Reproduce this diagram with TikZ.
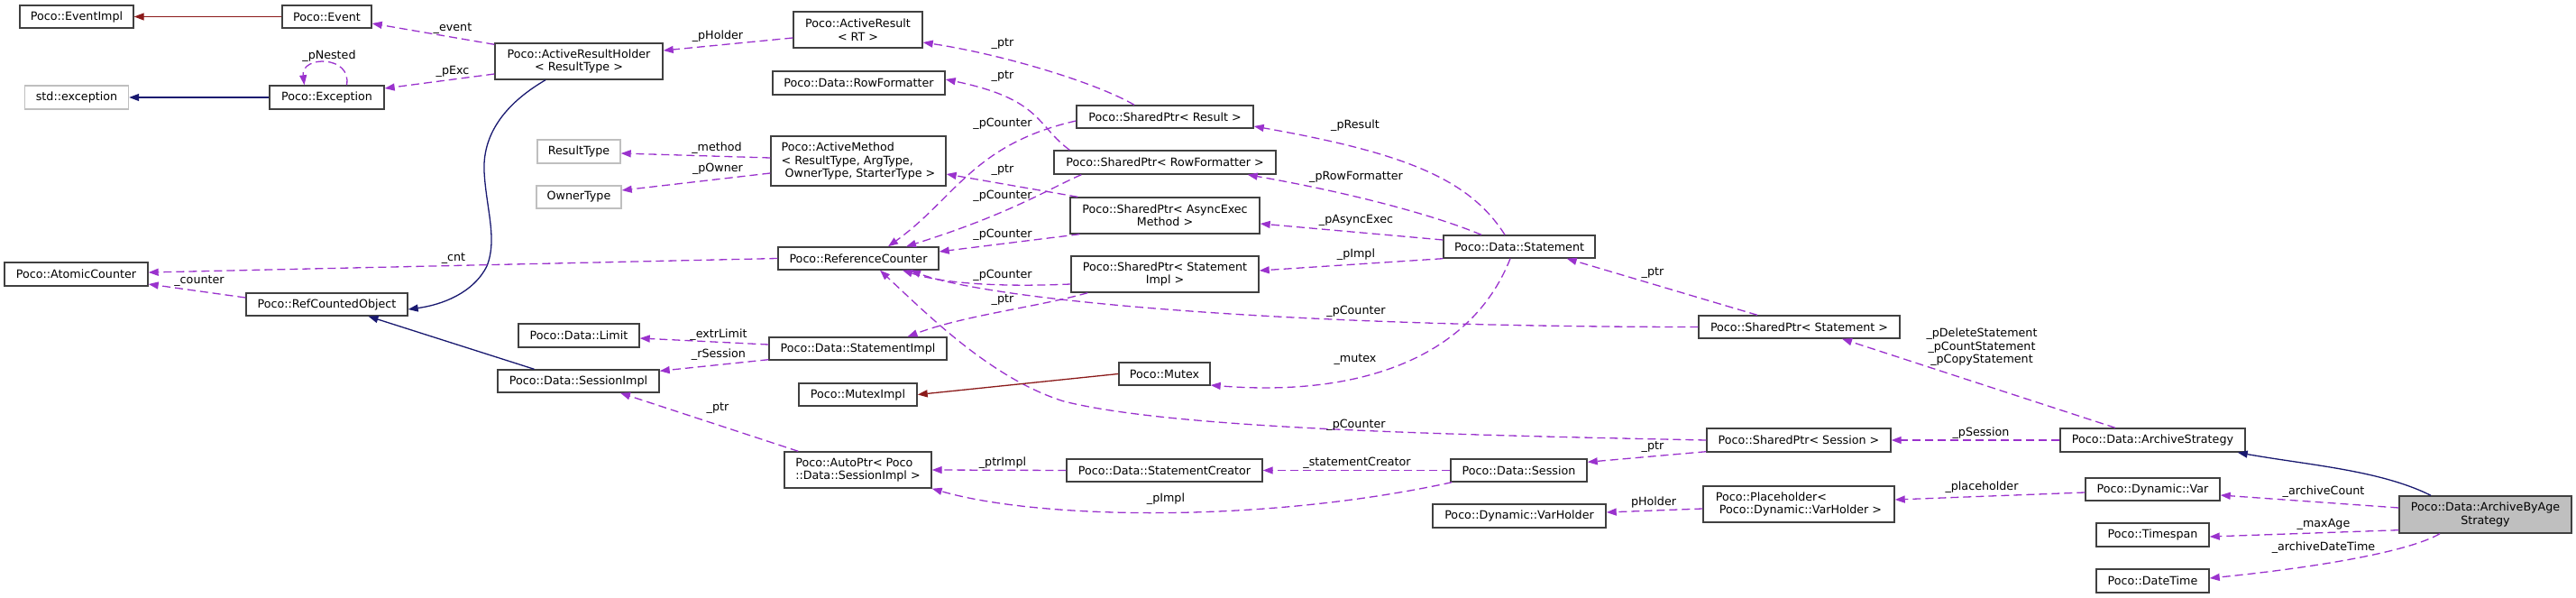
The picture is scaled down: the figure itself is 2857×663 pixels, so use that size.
\documentclass[tikz,border=0pt]{standalone}
\usepackage{fontspec}
\setmainfont{DejaVu Sans}
\usetikzlibrary{arrows.meta}
\definecolor{usecol}{HTML}{9A32CD}
\definecolor{inhcol}{HTML}{191970}
\definecolor{tplcol}{HTML}{8B1A1A}
\definecolor{boxcol}{HTML}{404040}
\definecolor{greycol}{HTML}{BFBFBF}
\tikzset{
  txt/.style={font=\fontsize{12.7}{14.5}\selectfont},
  box/.style={txt, draw=boxcol, line width=1.4pt, fill=white, inner sep=0pt, align=center},
  gbox/.style={box, draw=greycol},
  tbox/.style={box, fill=greycol},
  lbl/.style={txt, inner sep=0pt},
  use/.style={draw=usecol, line width=1.3pt, dash pattern=on 9pt off 5pt, -{Triangle[length=11pt,width=8pt]}},
  inh/.style={draw=inhcol, line width=1.3pt, -{Triangle[length=11pt,width=8pt]}},
  tpl/.style={draw=tplcol, line width=1.3pt, -{Triangle[length=11pt,width=8pt]}},
}
\begin{document}
\begin{tikzpicture}[x=1pt,y=-1pt]
\useasboundingbox (0,0) rectangle (2857,663);
% nodes
\node[box, minimum width=126pt, minimum height=25pt] (eventimpl) at (85,18.5) {Poco::EventImpl};
\node[box, minimum width=99pt, minimum height=25pt] (event) at (362.5,18.5) {Poco::Event};
\node[box, minimum width=186pt, minimum height=40pt] (arh) at (642,68) {Poco::ActiveResultHolder\\< ResultType >};
\node[gbox, minimum width=115pt, minimum height=26pt] (stdexc) at (85,108) {std::exception};
\node[box, minimum width=127pt, minimum height=26pt] (exception) at (362.5,108) {Poco::Exception};
\node[gbox, minimum width=92pt, minimum height=26pt] (resulttype) at (642,168) {ResultType};
\node[gbox, minimum width=94pt, minimum height=25pt] (ownertype) at (642,218.5) {OwnerType};
\node[box, minimum width=159pt, minimum height=26pt] (atomic) at (84.5,304) {Poco::AtomicCounter};
\node[box, minimum width=179pt, minimum height=25pt] (rco) at (362.5,337.5) {Poco::RefCountedObject};
\node[box, minimum width=134pt, minimum height=26pt] (limit) at (642,372) {Poco::Data::Limit};
\node[box, minimum width=179pt, minimum height=25pt] (sessionimpl) at (641.5,422.5) {Poco::Data::SessionImpl};
\node[box, minimum width=143pt, minimum height=40pt] (activeresult) at (951.5,33) {Poco::ActiveResult\\< RT >};
\node[box, minimum width=191pt, minimum height=26pt] (rowformatter) at (952.5,92) {Poco::Data::RowFormatter};
\node[box, align=left, minimum width=194pt, minimum height=55pt] (activemethod) at (952,178.5) {Poco::ActiveMethod\\< ResultType, ArgType,\\\hspace*{4pt}OwnerType, StarterType >};
\node[box, minimum width=178pt, minimum height=25pt] (refcounter) at (952,286.5) {Poco::ReferenceCounter};
\node[box, minimum width=197pt, minimum height=25pt] (stmtimpl) at (951.5,386.5) {Poco::Data::StatementImpl};
\node[box, minimum width=131pt, minimum height=25pt] (muteximpl) at (951.5,437.5) {Poco::MutexImpl};
\node[box, align=left, minimum width=163pt, minimum height=40pt] (autoptr) at (951.5,521) {Poco::AutoPtr< Poco\\::Data::SessionImpl >};
\node[box, minimum width=196pt, minimum height=25pt] (spresult) at (1292,129.5) {Poco::SharedPtr< Result >};
\node[box, minimum width=246pt, minimum height=26pt] (sprowf) at (1292,180) {Poco::SharedPtr< RowFormatter >};
\node[box, minimum width=210pt, minimum height=40pt] (spasync) at (1292,239) {Poco::SharedPtr< AsyncExec\\Method >};
\node[box, minimum width=208pt, minimum height=40pt] (spstmtimpl) at (1292,304) {Poco::SharedPtr< Statement\\Impl >};
\node[box, minimum width=101pt, minimum height=25pt] (mutex) at (1291.5,414.5) {Poco::Mutex};
\node[box, minimum width=217pt, minimum height=25pt] (stmtcreator) at (1291.5,521.5) {Poco::Data::StatementCreator};
\node[box, minimum width=168pt, minimum height=25pt] (statement) at (1685,273.5) {Poco::Data::Statement};
\node[box, minimum width=151pt, minimum height=25pt] (session) at (1684.5,521.5) {Poco::Data::Session};
\node[box, minimum width=192pt, minimum height=26pt] (varholder) at (1685,572) {Poco::Dynamic::VarHolder};
\node[box, minimum width=223pt, minimum height=25pt] (spstatement) at (1995.5,362.5) {Poco::SharedPtr< Statement >};
\node[box, minimum width=204pt, minimum height=26pt] (spsession) at (1995,488) {Poco::SharedPtr< Session >};
\node[box, align=left, minimum width=212pt, minimum height=40pt] (placeholder) at (1995,559) {Poco::Placeholder<\\\hspace*{4pt}Poco::Dynamic::VarHolder >};
\node[box, minimum width=205pt, minimum height=26pt] (archivestrategy) at (2387.5,488) {Poco::Data::ArchiveStrategy};
\node[box, minimum width=149pt, minimum height=25pt] (var) at (2387.5,542.5) {Poco::Dynamic::Var};
\node[box, minimum width=125pt, minimum height=26pt] (timespan) at (2387.5,593) {Poco::Timespan};
\node[box, minimum width=125pt, minimum height=26pt] (datetime) at (2387.5,644) {Poco::DateTime};
\node[tbox, minimum width=191pt, minimum height=41pt] (archivebyage) at (2756.5,570.5) {Poco::Data::ArchiveByAge\\Strategy};
% edges
\draw[tpl] (event.west) -- (eventimpl.east);
\draw[use] ([yshift=-2pt]arh.north west) -- ([yshift=-7.5pt]event.east);
\draw[use] ([yshift=-14pt]arh.west) -- ([yshift=10pt]exception.east);
\draw[use] ([xshift=22pt]exception.north) .. controls +(6,-33) and +(-4,-33) .. ([xshift=-25pt]exception.north);
\draw[inh] (exception.west) -- (stdexc.east);
\draw[inh] ([xshift=-37pt]arh.south) .. controls (565,112) and (535,145) .. (537,190) .. controls (539,230) and (552,265) .. (540,295) .. controls (525,325) and (490,338) .. ([yshift=-5.5pt]rco.east);
\draw[use] ([yshift=7.5pt]rco.west) -- ([yshift=-11pt]atomic.east);
\draw[use] (refcounter.west) -- ([yshift=2pt]atomic.east);
\draw[inh] ([xshift=-49pt]sessionimpl.north) -- ([xshift=46pt]rco.south);
\draw[use] ([yshift=4.5pt]stmtimpl.west) -- ([yshift=-3pt]limit.east);
\draw[use] ([yshift=1pt]stmtimpl.south west) -- ([yshift=-2pt]sessionimpl.north east);
\draw[use] ([xshift=16pt]autoptr.north west) -- ([xshift=46.5pt]sessionimpl.south);
\draw[use] ([yshift=3.5pt]activemethod.west) -- ([yshift=-2pt]resulttype.east);
\draw[use] ([yshift=-13.5pt]activemethod.west) -- ([yshift=7.5pt]ownertype.east);
\draw[use] ([yshift=-9pt]activeresult.west) -- ([yshift=12pt]arh.east);
\draw[use] ([xshift=-34pt]spresult.north) .. controls +(-43,-25) and +(87,13) .. ([yshift=-14pt]activeresult.east);
\draw[use] ([xshift=18pt]sprowf.north west) .. controls +(-37,-27) and +(107,22) .. ([yshift=4pt]rowformatter.east);
\draw[use] ([yshift=-4.5pt]spresult.west) .. controls +(-114,26) and +(75,-54) .. ([xshift=33pt]refcounter.north);
\draw[use] ([xshift=31pt]sprowf.south west) .. controls +(-35,15) and +(115,-36) .. ([xshift=53pt]refcounter.north);
\draw[use] ([xshift=9pt]spasync.north west) -- ([yshift=-14.5pt]activemethod.east);
\draw[use] ([xshift=11pt]spasync.south west) -- ([yshift=7.5pt]refcounter.east);
\draw[use] ([yshift=-11pt]spstmtimpl.west) .. controls +(-68,3) and +(49,16) .. ([xshift=49pt]refcounter.south);
\draw[use] ([xshift=19pt]spstmtimpl.south west) .. controls +(-57,16) and +(64,-24) .. ([xshift=55pt]stmtimpl.north);
\draw[use] (spstatement.west) .. controls +(-484,0) and +(80,31) .. ([xshift=58pt]refcounter.south);
\draw[use] (spsession.west) .. controls +(-293,-6) and +(120,30) .. (1180,445) .. controls (1100,420) and (1030,350) .. ([xshift=24pt]refcounter.south);
\draw[use] ([xshift=-16pt]statement.north) .. controls +(-39,-61) and +(170,30) .. ([yshift=-10.5pt]spresult.east);
\draw[use] ([xshift=-42pt]statement.north) .. controls +(-63,-26) and +(97,17) .. ([xshift=-32pt]sprowf.south east);
\draw[use] ([yshift=7.5pt]statement.west) -- ([yshift=-9pt]spasync.east);
\draw[use] (statement.south west) -- ([yshift=4pt]spstmtimpl.east);
\draw[use] ([xshift=-10pt]statement.south) .. controls +(-45,114) and +(158,13) .. ([yshift=-12.5pt]mutex.east);
\draw[tpl] (mutex.west) -- (muteximpl.east);
\draw[use] ([xshift=-46.5pt]spstatement.north) -- ([xshift=-32pt]statement.south east);
\draw[use] ([xshift=-41.5pt]archivestrategy.north) -- ([xshift=47.5pt]spstatement.south);
\draw[use] (archivestrategy.west) -- (spsession.east);
\draw[use] ([yshift=1pt]spsession.south west) -- ([yshift=-4pt]session.north east);
\draw[use] (session.west) -- (stmtcreator.east);
\draw[use] (stmtcreator.west) -- (autoptr.east);
\draw[use] ([xshift=2pt]session.south west) .. controls +(-211,46) and +(117,34) .. (autoptr.south east);
\draw[use] ([yshift=-5pt]placeholder.west) -- ([yshift=4pt]varholder.east);
\draw[use] ([yshift=-3.5pt]var.west) -- ([yshift=5pt]placeholder.east);
\draw[inh] ([xshift=-60.5pt]archivebyage.north) .. controls +(-56,-28) and +(79,14) .. ([xshift=-9pt]archivestrategy.south east);
\draw[use] ([yshift=7.5pt]archivebyage.west) -- ([yshift=-6.5pt]var.east);
\draw[use] ([yshift=4pt]archivebyage.south west) -- ([yshift=-2pt]timespan.east);
\draw[use] ([xshift=-50.5pt]archivebyage.south) .. controls +(-36,21) and +(110,-11) .. ([yshift=3pt]datetime.east);
% labels
\node[lbl] (l1) at (502,32) {\_event};
\node[lbl] (l2) at (502,79) {\_pExc};
\node[lbl] (l3) at (365,62) {\_pNested};
\node[lbl] (l4) at (221,312) {\_counter};
\node[lbl] (l5) at (503,287) {\_cnt};
\node[lbl] (l6) at (797,371) {\_extrLimit};
\node[lbl] (l7) at (797,393) {\_rSession};
\node[lbl] (l8) at (796,453) {\_ptr};
\node[lbl] (l9) at (795,164) {\_method};
\node[lbl] (l10) at (796,187) {\_pOwner};
\node[lbl] (l11) at (796,40) {\_pHolder};
\node[lbl] (l12) at (1112,49) {\_ptr};
\node[lbl] (l13) at (1112,85) {\_ptr};
\node[lbl] (l14) at (1112,137) {\_pCounter};
\node[lbl] (l15) at (1112,189) {\_ptr};
\node[lbl] (l16) at (1112,217) {\_pCounter};
\node[lbl] (l17) at (1112,260) {\_pCounter};
\node[lbl] (l18) at (1112,305) {\_pCounter};
\node[lbl] (l19) at (1112,333) {\_ptr};
\node[lbl] (l20) at (1503,139) {\_pResult};
\node[lbl] (l21) at (1504,196) {\_pRowFormatter};
\node[lbl] (l22) at (1504,244) {\_pAsyncExec};
\node[lbl] (l23) at (1504,282) {\_pImpl};
\node[lbl] (l24) at (1504,345) {\_pCounter};
\node[lbl] (l25) at (1503,399) {\_mutex};
\node[lbl] (l26) at (1504,471) {\_pCounter};
\node[lbl] (l27) at (1833,303) {\_ptr};
\node[lbl, align=center] (l28) at (2198,385) {\_pDeleteStatement\\\_pCountStatement\\\_pCopyStatement};
\node[lbl] (l29) at (2197,480) {\_pSession};
\node[lbl] (l30) at (1833,496) {\_ptr};
\node[lbl] (l31) at (1505,513) {\_statementCreator};
\node[lbl] (l32) at (1112,513) {\_ptrImpl};
\node[lbl] (l33) at (1293,553) {\_pImpl};
\node[lbl] (l34) at (1834,557) {pHolder};
\node[lbl] (l35) at (2198,540) {\_placeholder};
\node[lbl] (l36) at (2577,545) {\_archiveCount};
\node[lbl] (l37) at (2577,581) {\_maxAge};
\node[lbl] (l38) at (2577,607) {\_archiveDateTime};
\end{tikzpicture}
\end{document}
